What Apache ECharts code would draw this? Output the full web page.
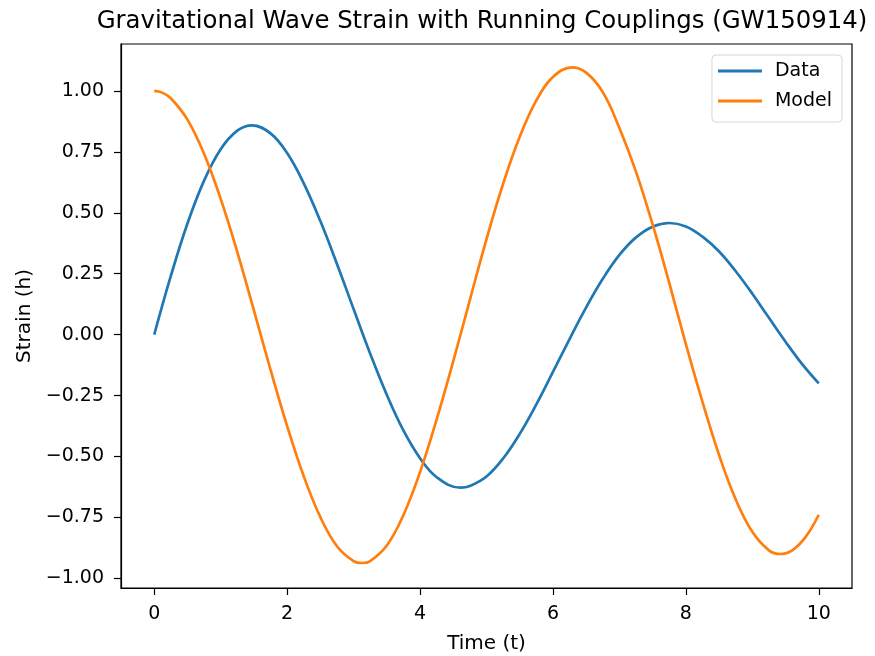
<!DOCTYPE html>
<html>
<head>
<meta charset="utf-8">
<script src="https://cdn.jsdelivr.net/npm/echarts@6/dist/echarts.min.js"></script>
<style>
  html, body { margin: 0; padding: 0; background: #fff; }
  #chart { width: 875px; height: 656px; }
</style>
</head>
<body>
<div id="chart"></div>
<script>
// values (extra samples at the turning points)
var dataT = [0, 0.25, 0.5, 0.75, 1, 1.25, 1.47, 1.75, 2, 2.25, 2.5, 2.75, 3, 3.25, 3.5, 3.75, 4, 4.25, 4.61, 4.75,
  5, 5.25, 5.5, 5.75, 6, 6.25, 6.5, 6.75, 7, 7.25, 7.5, 7.75, 8, 8.25, 8.5, 8.75, 9, 9.25, 9.5, 9.75, 10];
var dataStrain = [0, 0.241, 0.456, 0.632, 0.761, 0.837, 0.859, 0.826, 0.745, 0.621, 0.466, 0.290, 0.105, -0.078,
  -0.247, -0.393, -0.507, -0.585, -0.628, -0.621, -0.582, -0.508, -0.407, -0.286, -0.153, -0.018, 0.112, 0.229,
  0.327, 0.399, 0.443, 0.458, 0.444, 0.402, 0.341, 0.260, 0.168, 0.069, -0.029, -0.121, -0.200];

var modelT = [0, 0.12, 0.25, 0.5, 0.75, 1, 1.25, 1.5, 1.75, 2, 2.25, 2.5, 2.75, 3, 3.13, 3.25, 3.5, 3.75, 4, 4.25, 4.5,
  4.75, 5, 5.25, 5.5, 5.75, 6, 6.29, 6.5, 6.75, 7, 7.25, 7.5, 7.75, 8, 8.25, 8.5, 8.75, 9, 9.25, 9.42, 9.6, 9.8, 10];
var modelStrain = [1.000, 0.993, 0.970, 0.882, 0.742, 0.557, 0.339, 0.100, -0.144, -0.375, -0.581, -0.749, -0.868, -0.929,
  -0.937, -0.929, -0.865, -0.740, -0.564, -0.348, -0.109, 0.143, 0.392, 0.619, 0.812, 0.961, 1.057, 1.097, 1.075,
  0.995, 0.848, 0.668, 0.452, 0.212, -0.039, -0.276, -0.494, -0.676, -0.809, -0.885, -0.900, -0.885, -0.831, -0.739];

var xTicks = [0, 2, 4, 6, 8, 10];
var yTicks = [-1, -0.75, -0.5, -0.25, 0, 0.25, 0.5, 0.75, 1];

function pairs(xs, ys) {
  return xs.map(function (x, i) { return [x, ys[i]]; });
}
function fmtY(v) {
  var s = Math.abs(v).toFixed(2);
  return v < 0 ? '\u2212' + s : s;
}

var font = 'DejaVu Sans';
var option = {
  animation: false,
  backgroundColor: '#fff',
  title: {
    text: 'Gravitational Wave Strain with Running Couplings (GW150914)',
    left: 477,
    textAlign: 'center',
    top: 5,
    textStyle: { fontFamily: font, fontSize: 24.4, fontWeight: 'normal', color: '#000' }
  },
  legend: {
    orient: 'vertical',
    right: 33,
    top: 55,
    icon: 'rect',
    itemWidth: 44,
    itemHeight: 3,
    itemGap: 10,
    padding: [6, 10, 11, 6],
    backgroundColor: '#fff',
    borderColor: '#d6d6d6',
    borderWidth: 1,
    borderRadius: 4,
    textStyle: { fontFamily: font, fontSize: 19, lineHeight: 20, color: '#000', padding: [0, 0, 0, 8] },
    data: ['Data', 'Model']
  },
  grid: {
    left: 121, right: 23, top: 44, bottom: 68,
    show: true, borderColor: '#000', borderWidth: 1.2,
    containLabel: false,
    outerBoundsMode: 'none'
  },
  xAxis: {
    type: 'value',
    min: -0.5, max: 10.5,
    name: 'Time (t)',
    nameLocation: 'middle',
    nameGap: 46,
    nameTextStyle: { fontFamily: font, fontSize: 20, color: '#000' },
    axisLine: { show: true, onZero: false, lineStyle: { color: '#000', width: 1.2 } },
    axisTick: { show: true, length: 7, customValues: xTicks, lineStyle: { color: '#000', width: 1.2 } },
    axisLabel: { customValues: xTicks, fontFamily: font, fontSize: 19, color: '#000', margin: 17 },
    splitLine: { show: false }
  },
  yAxis: {
    type: 'value',
    min: -1.0395, max: 1.1925,
    name: 'Strain (h)',
    nameLocation: 'middle',
    nameGap: 85,
    nameTextStyle: { fontFamily: font, fontSize: 20, color: '#000' },
    axisLine: { show: true, onZero: false, lineStyle: { color: '#000', width: 1.2 } },
    axisTick: { show: true, length: 7, customValues: yTicks, lineStyle: { color: '#000', width: 1.2 } },
    axisLabel: { customValues: yTicks, formatter: fmtY, fontFamily: font, fontSize: 19, color: '#000', margin: 17 },
    splitLine: { show: false }
  },
  series: [
    {
      name: 'Data',
      type: 'line',
      data: pairs(dataT, dataStrain),
      smooth: 0.4,
      showSymbol: false,
      lineStyle: { color: '#1f77b4', width: 2.7 },
      itemStyle: { color: '#1f77b4' }
    },
    {
      name: 'Model',
      type: 'line',
      data: pairs(modelT, modelStrain),
      smooth: 0.4,
      showSymbol: false,
      lineStyle: { color: '#ff7f0e', width: 2.7 },
      itemStyle: { color: '#ff7f0e' }
    }
  ]
};

var chart = echarts.init(document.getElementById('chart'));
chart.setOption(option);
</script>
</body>
</html>
